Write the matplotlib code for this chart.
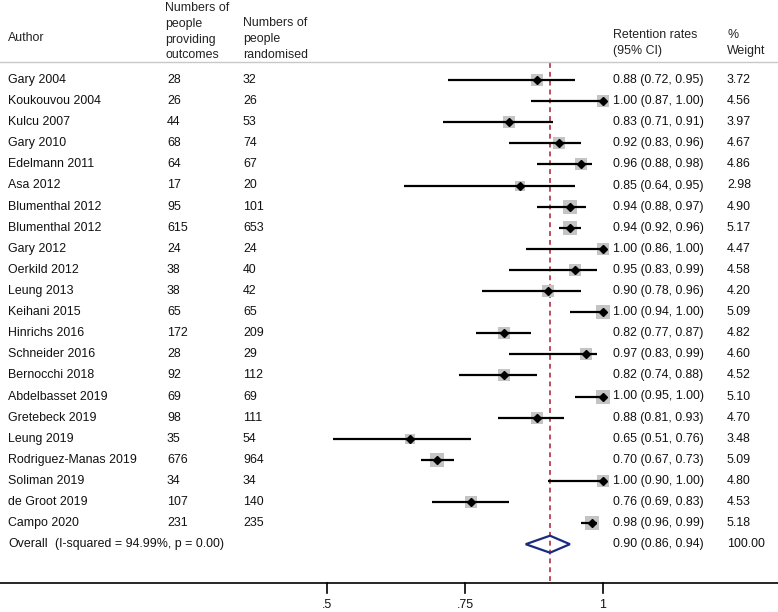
import matplotlib
matplotlib.use("Agg")
import matplotlib.pyplot as plt
from matplotlib.transforms import blended_transform_factory
from matplotlib.patches import Polygon

plt.rcParams['font.family'] = ['Liberation Sans', 'DejaVu Sans']

authors = ["Gary 2004", "Koukouvou 2004", "Kulcu 2007", "Gary 2010", "Edelmann 2011",
           "Asa 2012", "Blumenthal 2012", "Blumenthal 2012", "Gary 2012", "Oerkild 2012",
           "Leung 2013", "Keihani 2015", "Hinrichs 2016", "Schneider 2016", "Bernocchi 2018",
           "Abdelbasset 2019", "Gretebeck 2019", "Leung 2019", "Rodriguez-Manas 2019",
           "Soliman 2019", "de Groot 2019", "Campo 2020"]
n_outcomes = [28, 26, 44, 68, 64, 17, 95, 615, 24, 38, 38, 65, 172, 28, 92, 69, 98, 35, 676, 34, 107, 231]
n_random = [32, 26, 53, 74, 67, 20, 101, 653, 24, 40, 42, 65, 209, 29, 112, 69, 111, 54, 964, 34, 140, 235]
est = [0.88, 1.00, 0.83, 0.92, 0.96, 0.85, 0.94, 0.94, 1.00, 0.95, 0.90, 1.00, 0.82, 0.97, 0.82,
       1.00, 0.88, 0.65, 0.70, 1.00, 0.76, 0.98]
lo = [0.72, 0.87, 0.71, 0.83, 0.88, 0.64, 0.88, 0.92, 0.86, 0.83, 0.78, 0.94, 0.77, 0.83, 0.74,
      0.95, 0.81, 0.51, 0.67, 0.90, 0.69, 0.96]
hi = [0.95, 1.00, 0.91, 0.96, 0.98, 0.95, 0.97, 0.96, 1.00, 0.99, 0.96, 1.00, 0.87, 0.99, 0.88,
      1.00, 0.93, 0.76, 0.73, 1.00, 0.83, 0.99]
weights = [3.72, 4.56, 3.97, 4.67, 4.86, 2.98, 4.90, 5.17, 4.47, 4.58, 4.20, 5.09, 4.82, 4.60, 4.52,
           5.10, 4.70, 3.48, 5.09, 4.80, 4.53, 5.18]
overall_est, overall_lo, overall_hi = 0.904, 0.86, 0.94
overall_label = "Overall"
overall_note = "(I-squared = 94.99%, p = 0.00)"
overall_ci_text = "0.90 (0.86, 0.94)"
overall_weight_text = "100.00"
xticks = [0.5, 0.75, 1.0]
xticklabels = [".5", ".75", "1"]

W, H = 778, 612
fig = plt.figure(figsize=(W / 100, H / 100), dpi=100)
ax = fig.add_axes([0, 0, 1, 1])
# pixel mapping: value 1 at px 603, 552 px per unit
ax.set_xlim(1 - 603 / 552, 1 + (W - 603) / 552)
ax.set_ylim(H, 0)
ax.axis('off')

tr = blended_transform_factory(fig.transFigure, ax.transData)
FS = 8.9

def row_y(i):
    return 80 + 21.1 * i

# header
hdr = dict(transform=tr, fontsize=FS, va='center', ha='left', color='#222222')
ax.text(8 / W, 38, "Author", **hdr)
for t, y in zip(["Numbers of", "people", "providing", "outcomes"], [8, 24, 40, 55]):
    ax.text(165 / W, y, t, **hdr)
for t, y in zip(["Numbers of", "people", "randomised"], [23, 39, 55]):
    ax.text(243 / W, y, t, **hdr)
for t, y in zip(["Retention rates", "(95% CI)"], [35, 51]):
    ax.text(613 / W, y, t, **hdr)
for t, y in zip(["%", "Weight"], [35, 51]):
    ax.text(727 / W, y, t, **hdr)
ax.plot([0, 1], [62, 62], transform=tr, color='#c8c8c8', lw=1.0)

# red dashed overall line
ax.plot([overall_est, overall_est], [63, 583], color='#b8404f', lw=1.3, ls=(0, (2.7, 2.2)), zorder=1)

txt = dict(transform=tr, fontsize=FS, va='center', ha='left', color='#111111')
for i, a in enumerate(authors):
    y = row_y(i)
    ax.text(8 / W, y, a, **txt)
    ax.text(167 / W, y, str(n_outcomes[i]), **txt)
    ax.text(243 / W, y, str(n_random[i]), **txt)
    ax.text(613 / W, y, f"{est[i]:.2f} ({lo[i]:.2f}, {hi[i]:.2f})", **txt)
    ax.text(727 / W, y, f"{weights[i]:.2f}", **txt)
    ax.scatter([est[i]], [y], s=18 * weights[i], marker='s', color='#c4c4c4', zorder=2, linewidths=0)
    ax.plot([lo[i], hi[i]], [y, y], color='black', lw=1.6, zorder=3, solid_capstyle='butt')
    ax.plot([est[i]], [y], marker='D', color='black', markersize=4.5, zorder=4)

# overall
yo = row_y(len(authors))
ax.text(8 / W, yo, overall_label, **txt)
ax.text(55 / W, yo, overall_note, **txt)
ax.text(613 / W, yo, overall_ci_text, **txt)
ax.text(727 / W, yo, overall_weight_text, **txt)
ax.add_patch(Polygon([[overall_lo, yo], [overall_est, yo - 8.5], [overall_hi, yo], [overall_est, yo + 8.5]],
                     closed=True, fill=False, edgecolor='#1a2a80', lw=1.6, zorder=5))

# axis
ax.plot([0, 1], [583, 583], transform=tr, color='black', lw=1.2)
for v, lab in zip(xticks, xticklabels):
    ax.plot([v, v], [583, 593], color='black', lw=1.2)
    ax.text(v, 605, lab, fontsize=FS, ha='center', va='center', color='#111111')

fig.savefig("out.png", dpi=100)
